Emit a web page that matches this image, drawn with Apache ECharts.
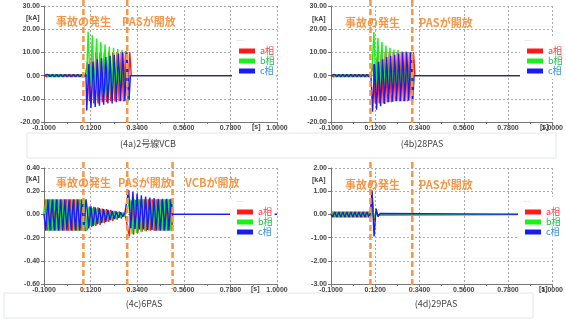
<!DOCTYPE html>
<html>
<head>
<meta charset="utf-8">
<script src="https://cdn.jsdelivr.net/npm/echarts@6/dist/echarts.min.js"></script>
<style>
html, body { margin: 0; padding: 0; background: #fff; }
#chart { width: 566px; height: 320px; }
</style>
</head>
<body>
<div id="chart"></div>
<script>
// 50Hz waveforms: peak values
var HALF = 0.01;
var T_MIN = -0.1, T_MAX = 1.0;

// (4a) 2号線VCB [kA]
var a4a_pre = [0.5,-0.5,0.5,-0.5,0.5,-0.5,0.5,-0.5,0.5,-0.5,0.5,-0.5,0.5,-0.5,0.5,-0.5,0.5,-0.5,0.5,-0.5];
var b4a_pre = [0.5,-0.5,0.5,-0.5,0.5,-0.5,0.5,-0.5,0.5,-0.5,0.5,-0.5,0.5,-0.5,0.5,-0.5,0.5,-0.5,0.5,-0.5];
var c4a_pre = [-0.5,0.5,-0.5,0.5,-0.5,0.5,-0.5,0.5,-0.5,0.5,-0.5,0.5,-0.5,0.5,-0.5,0.5,-0.5,0.5,-0.5,0.5];
var a4a_flt = [6,-11,9,-12,10,-12,10,-11.5,10,-11.5,10,-11,10,-11,10,-11,10,-11,10.5,-11,10];
var b4a_flt = [19,-5,17.5,-6,16,-7,14.5,-8,13.5,-8.5,12.5,-9,12,-9.5,11.5,-10,11,-10.5,10.5,-11];
var c4a_flt = [-15,5,-14,6,-13.5,7,-13,7.5,-12.5,8,-12,8.5,-12,9,-11.5,9.5,-11,10,-11,10,-10.5];

// (4b) 28PAS [kA]
var a4b_pre = [0.5,-0.5,0.5,-0.5,0.5,-0.5,0.5,-0.5,0.5,-0.5,0.5,-0.5,0.5,-0.5,0.5,-0.5,0.5,-0.5,0.5,-0.5];
var b4b_pre = [0.5,-0.5,0.5,-0.5,0.5,-0.5,0.5,-0.5,0.5,-0.5,0.5,-0.5,0.5,-0.5,0.5,-0.5,0.5,-0.5,0.5,-0.5];
var c4b_pre = [-0.5,0.5,-0.5,0.5,-0.5,0.5,-0.5,0.5,-0.5,0.5,-0.5,0.5,-0.5,0.5,-0.5,0.5,-0.5,0.5,-0.5,0.5];
var a4b_flt = [5,-12,8,-12,9.5,-12,10,-11.5,10,-11.5,10,-11,10,-11,10,-11,10,-11,10,-11,10];
var b4b_flt = [18.8,-5,16.2,-6,14.5,-7,13,-8,12,-8.5,11.2,-9,11,-9.5,10.5,-10,10.5,-10.5,10.2,-11];
var c4b_flt = [-15.6,5,-14.7,6,-13.2,7,-12.2,8,-11.5,8.5,-11.3,9,-11,9.5,-11,10,-11,10,-10.8,10,-10.5];

// (4c) 6PAS [kA]
var a4c_pre = [0.13,-0.14,0.13,-0.14,0.13,-0.14,0.13,-0.14,0.13,-0.14,0.13,-0.14,0.13,-0.14,0.13,-0.14,0.13,-0.14,0.13,-0.14];
var b4c_pre = [0.13,-0.14,0.13,-0.14,0.13,-0.14,0.13,-0.14,0.13,-0.14,0.13,-0.14,0.13,-0.14,0.13,-0.14,0.13,-0.14,0.13,-0.14];
var c4c_pre = [-0.14,0.13,-0.14,0.13,-0.14,0.13,-0.14,0.13,-0.14,0.13,-0.14,0.13,-0.14,0.13,-0.14,0.13,-0.14,0.13,-0.14,0.13];
var a4c_flt = [-0.13,0.07,-0.11,0.065,-0.1,0.06,-0.09,0.05,-0.075,0.045,-0.065,0.04,-0.055,0.03,-0.045,0.025,-0.035,0.015,-0.02];
var b4c_flt = [0.06,-0.1,0.055,-0.09,0.05,-0.08,0.045,-0.07,0.04,-0.06,0.035,-0.05,0.03,-0.04,0.02,-0.03,0.015,-0.02,0.01];
var c4c_flt = [0.08,-0.12,0.07,-0.1,0.06,-0.085,0.055,-0.075,0.045,-0.065,0.04,-0.05,0.03,-0.04,0.025,-0.03,0.018,-0.02,0.01];
var a4c_pas = [-0.19,0.12,-0.175,0.125,-0.16,0.13,-0.15,0.13,-0.145,0.13,-0.14,0.13,-0.14,0.13,-0.14,0.13,-0.14,0.13,-0.14,0.13,-0.14];
var b4c_pas = [0.13,-0.17,0.13,-0.16,0.13,-0.15,0.13,-0.145,0.13,-0.14,0.13,-0.14,0.13,-0.14,0.13,-0.14,0.13,-0.14,0.13,-0.14,0.13];
var c4c_pas = [0.21,-0.12,0.195,-0.125,0.18,-0.13,0.165,-0.13,0.155,-0.135,0.145,-0.135,0.14,-0.14,0.135,-0.14,0.135,-0.14,0.135,-0.14,0.135];

// (4d) 29PAS [kA]
var a4d_pre = [0.12,-0.12,0.12,-0.12,0.12,-0.12,0.12,-0.12,0.12,-0.12,0.12,-0.12,0.12,-0.12,0.12,-0.12,0.12,-0.12,0.12,-0.12];
var b4d_pre = [0.12,-0.12,0.12,-0.12,0.12,-0.12,0.12,-0.12,0.12,-0.12,0.12,-0.12,0.12,-0.12,0.12,-0.12,0.12,-0.12,0.12,-0.12];
var c4d_pre = [-0.12,0.12,-0.12,0.12,-0.12,0.12,-0.12,0.12,-0.12,0.12,-0.12,0.12,-0.12,0.12,-0.12,0.12,-0.12,0.12,-0.12,0.12];
var a4d_flt = [1.05,-0.3,0.1,-0.03];
var b4d_flt = [0.3,-0.15,0.05,-0.02];
var c4d_flt = [1.0,-0.95,0.25,-0.1,0.04];

// event times [s]: 事故の発生, PASが開放, VCBが開放
var events4a = [0.086, 0.293];
var events4b = [0.096, 0.304];
var events4c = [0.086, 0.293, 0.507];
var events4d = [0.096, 0.304];

var xTicks = { min: -0.1, max: 1.0, interval: 0.22 };
var yTicks = [
    { min: -20, max: 30, interval: 10 },
    { min: -20, max: 30, interval: 10 },
    { min: -0.6, max: 0.4, interval: 0.2 },
    { min: -3, max: 2, interval: 1 }
];

var phaseNames = ['a相', 'b相', 'c相'];
var phaseColors = ['#ff1a1a', '#19f219', '#1a1aff'];
var legendTextColors = ['#f03c3c', '#1fc24a', '#2b8fe0'];

// segments: [firstPeakTime, values]
function buildPhase(segments, tEnd) {
    var d = [[T_MIN, 0]];
    segments.forEach(function (s) {
        s[1].forEach(function (v, i) {
            d.push([s[0] + i * HALF, v]);
        });
    });
    d.push([tEnd, 0]);
    d.push([T_MAX, 0]);
    return d;
}

var panels = [
    [
        buildPhase([[-0.095, a4a_pre], [0.105, a4a_flt]], 0.312),
        buildPhase([[-0.0883, b4a_pre], [0.1083, b4a_flt]], 0.305),
        buildPhase([[-0.0917, c4a_pre], [0.1017, c4a_flt]], 0.308)
    ],
    [
        buildPhase([[-0.095, a4b_pre], [0.11, a4b_flt]], 0.317),
        buildPhase([[-0.0883, b4b_pre], [0.1133, b4b_flt]], 0.31),
        buildPhase([[-0.0917, c4b_pre], [0.1067, c4b_flt]], 0.313)
    ],
    [
        buildPhase([[-0.095, a4c_pre], [0.105, a4c_flt], [0.303, a4c_pas]], 0.508),
        buildPhase([[-0.0883, b4c_pre], [0.1083, b4c_flt], [0.3063, b4c_pas]], 0.51),
        buildPhase([[-0.0917, c4c_pre], [0.1017, c4c_flt], [0.2997, c4c_pas]], 0.506)
    ],
    [
        buildPhase([[-0.095, a4d_pre], [0.103, a4d_flt]], 0.14),
        buildPhase([[-0.0883, b4d_pre], [0.105, b4d_flt]], 0.14),
        buildPhase([[-0.0917, c4d_pre], [0.104, c4d_flt]], 0.15)
    ]
];

var grids = [
    { left: 44, top: 6, width: 233, height: 116 },
    { left: 331, top: 6, width: 231, height: 116 },
    { left: 44, top: 168, width: 233, height: 116 },
    { left: 331, top: 168, width: 231, height: 116 }
];

var numFont = 'Liberation Sans';
var jpFont = 'Noto Sans CJK JP';

var xAxes = grids.map(function (g, i) {
    return {
        type: 'value', gridIndex: i,
        min: xTicks.min, max: xTicks.max, interval: xTicks.interval,
        axisLine: { show: true, onZero: false, lineStyle: { color: '#777', width: 1 } },
        axisTick: { show: true, length: 3, lineStyle: { color: '#777' } },
        minorTick: { show: true, splitNumber: 2, length: 2, lineStyle: { color: '#777' } },
        splitLine: { show: true, lineStyle: { color: '#aaa', type: [2, 2], width: 1 } },
        axisLabel: {
            margin: 3, fontSize: 7, fontWeight: 'bold', color: '#444', fontFamily: numFont,
            showMinLabel: true, showMaxLabel: true,
            formatter: function (v) { return v.toFixed(4); }
        }
    };
});

var yAxes = grids.map(function (g, i) {
    return {
        type: 'value', gridIndex: i,
        min: yTicks[i].min, max: yTicks[i].max, interval: yTicks[i].interval,
        axisLine: { show: true, onZero: false, lineStyle: { color: '#777', width: 1 } },
        axisTick: { show: true, length: 3, lineStyle: { color: '#777' } },
        splitLine: { show: true, lineStyle: { color: '#aaa', type: [2, 2], width: 1 } },
        axisLabel: {
            margin: 4, fontSize: 7, fontWeight: 'bold', color: '#444', fontFamily: numFont,
            formatter: function (v) { return v.toFixed(2); }
        }
    };
});

var series = [];
panels.forEach(function (p, gi) {
    p.forEach(function (data, k) {
        series.push({
            name: phaseNames[k], type: 'line',
            xAxisIndex: gi, yAxisIndex: gi,
            data: data, showSymbol: false, symbol: 'none',
            lineStyle: { width: 1.4, color: phaseColors[k] },
            itemStyle: { color: phaseColors[k] },
            silent: true
        });
    });
});

var legendPos = [[232, 36], [520, 36], [230, 197], [518, 197]];
var legends = legendPos.map(function (p) {
    return {
        left: p[0], top: p[1], orient: 'vertical',
        backgroundColor: '#fff', padding: [10, 2, 3, 7],
        itemWidth: 16, itemHeight: 5, itemGap: 0, icon: 'rect',
        selectedMode: false,
        textStyle: { fontSize: 9, lineHeight: 10, fontFamily: jpFont },
        data: phaseNames.map(function (n, k) {
            return { name: n, textStyle: { color: legendTextColors[k] } };
        })
    };
});

function txt(id, x, y, s, style) {
    return {
        type: 'text', id: id, x: x, y: y, z: 100,
        style: Object.assign({ text: s, textVerticalAlign: 'middle' }, style)
    };
}

var axisTxt = { fontSize: 7, fontWeight: 'bold', fill: '#444', fontFamily: numFont };
var noteTxt = { fontSize: 11, fontWeight: 'bold', fill: '#f79646', fontFamily: jpFont };
var capTxt = { fontSize: 9, fill: '#444', fontFamily: jpFont, textAlign: 'center' };
var dashTxt = { fontSize: 7, fill: '#d0d0d0', fontFamily: numFont };

var graphics = [
    { type: 'rect', id: 'boxTop', z: 1, shape: { x: 27, y: 133, width: 529, height: 25 },
      style: { fill: '#fff', stroke: '#e2e8ee', lineWidth: 1 } },
    { type: 'rect', id: 'boxBot', z: 1, shape: { x: 4, y: 293, width: 529, height: 25 },
      style: { fill: '#fff', stroke: '#e2e8ee', lineWidth: 1 } },
    txt('cap4a', 148, 144, '(4a)2号線VCB', capTxt),
    txt('cap4b', 422, 144, '(4b)28PAS', capTxt),
    txt('cap4c', 144, 304, '(4c)6PAS', capTxt),
    txt('cap4d', 436, 304, '(4d)29PAS', capTxt),
    txt('ka1', 26, 18, '[kA]', axisTxt),
    txt('ka2', 312, 19, '[kA]', axisTxt),
    txt('ka3', 26, 179, '[kA]', axisTxt),
    txt('ka4', 312, 180, '[kA]', axisTxt),
    txt('s1', 252, 127, '[s]', axisTxt),
    txt('s2', 540, 127, '[s]', axisTxt),
    txt('s3', 251, 289, '[s]', axisTxt),
    txt('s4', 539, 289, '[s]', axisTxt),
    txt('d1', 237, 40, '---', dashTxt),
    txt('d2', 525, 40, '---', dashTxt),
    txt('d3', 237, 201, '---', dashTxt),
    txt('d4', 523, 201, '---', dashTxt),
    txt('n1', 56, 22, '事故の発生', noteTxt),
    txt('n2', 122, 22, 'PASが開放', noteTxt),
    txt('n3', 345, 23, '事故の発生', noteTxt),
    txt('n4', 419, 23, 'PASが開放', noteTxt),
    txt('n5', 56, 183, '事故の発生', noteTxt),
    txt('n6', 118, 183, 'PASが開放', noteTxt),
    txt('n7', 185, 183, 'VCBが開放', noteTxt),
    txt('n8', 345, 185, '事故の発生', noteTxt),
    txt('n9', 419, 185, 'PASが開放', noteTxt)
];

var chart = echarts.init(document.getElementById('chart'));
chart.setOption({
    animation: false,
    backgroundColor: '#fff',
    grid: grids,
    xAxis: xAxes,
    yAxis: yAxes,
    legend: legends,
    series: series,
    graphic: { elements: graphics }
});

// orange dashed event lines, placed through the x scale of each grid
var eventSets = [events4a, events4b, events4c, events4d];
var lineSpan = [[0, 127], [0, 127], [162, 289], [162, 289]];
var eventLines = [];
eventSets.forEach(function (ev, gi) {
    ev.forEach(function (t, k) {
        var x = chart.convertToPixel({ xAxisIndex: gi }, t);
        eventLines.push({
            type: 'line', id: 'ev' + gi + '_' + k, z: 90,
            shape: { x1: x, y1: lineSpan[gi][0], x2: x, y2: lineSpan[gi][1] },
            style: { stroke: '#f79646', lineWidth: 2.5, lineDash: [6, 3] }
        });
    });
});
chart.setOption({ graphic: { elements: eventLines } });
</script>
</body>
</html>
